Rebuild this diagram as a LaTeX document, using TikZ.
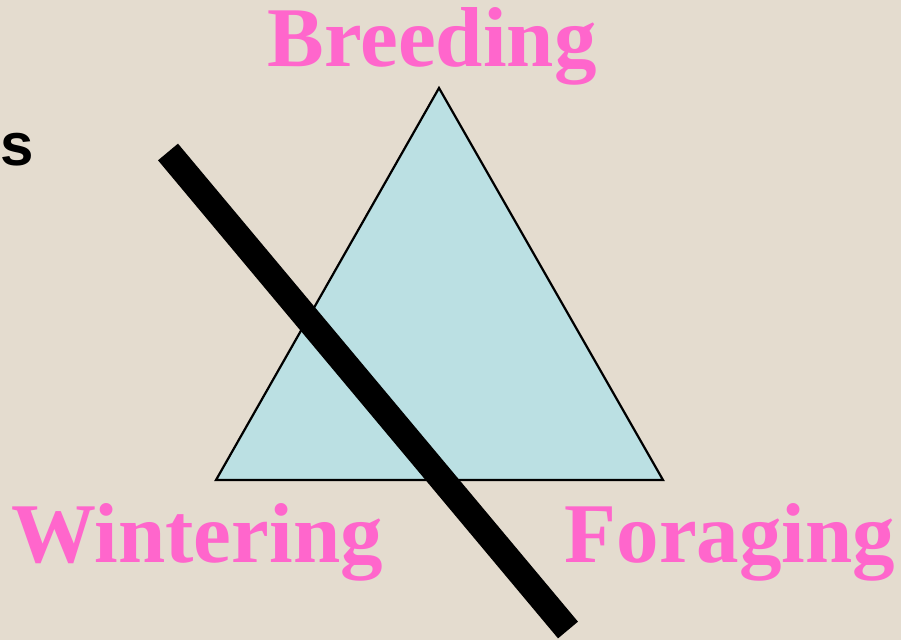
\documentclass[tikz,border=0pt]{standalone}
\usepackage{fontspec}
\setmainfont{Liberation Serif}
\newfontfamily\labelsans{Liberation Sans}
\definecolor{bgbeige}{HTML}{E4DCCF}
\definecolor{tripink}{HTML}{FF66CC}
\definecolor{trifill}{HTML}{BBE0E3}
\tikzset{
  bigword/.style={text=tripink, font=\bfseries\fontsize{85}{85}\selectfont, inner sep=0pt, anchor=base},
  slash/.style={line width=26pt, line cap=butt, black},
  tri/.style={draw=black, line width=2.2pt, fill=trifill, line join=miter}
}
\begin{document}
\begin{tikzpicture}[x=1pt,y=-1pt]
\fill[bgbeige] (0,0) rectangle (901,640);
\useasboundingbox (0,0) rectangle (901,640);
\coordinate (apex) at (439,88);
\coordinate (bl) at (216,480);
\coordinate (br) at (663,480);
\draw[tri] (apex) -- (bl) -- (br) -- cycle;
\coordinate (s1) at (168,152);
\coordinate (s2) at (568,630);
\draw[slash] (s1) -- (s2);
\node[bigword] (breeding) at (432,66) {Breeding};
\node[bigword] (wintering) at (197,562) {Wintering};
\node[bigword] (foraging) at (730,562) {Foraging};
\node[anchor=base west, inner sep=0pt, font=\labelsans\bfseries\fontsize{60}{60}\selectfont] (s) at (0,165) {s};
\end{tikzpicture}
\end{document}
